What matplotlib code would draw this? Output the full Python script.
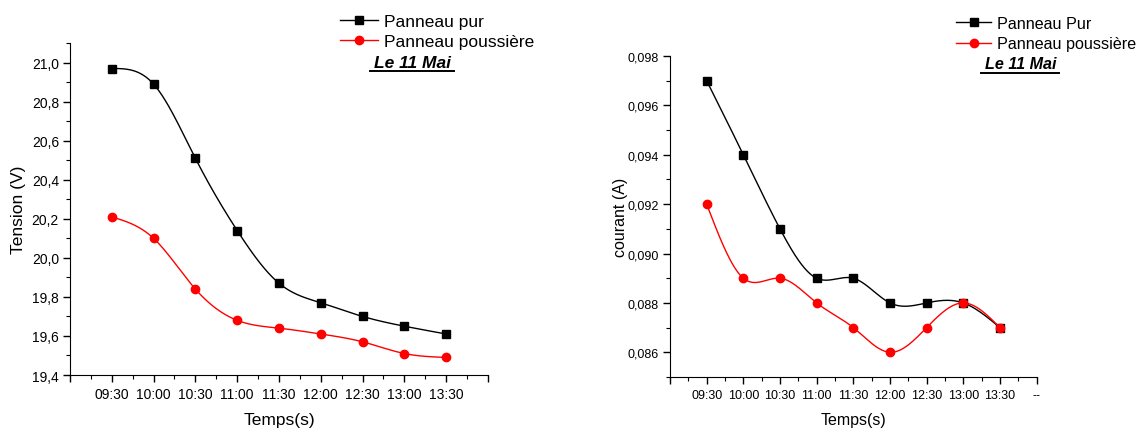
import numpy as np
import matplotlib
matplotlib.use("Agg")
import matplotlib.pyplot as plt
from matplotlib.ticker import FuncFormatter, MultipleLocator, FixedLocator
from matplotlib.lines import Line2D

plt.rcParams['font.family'] = ['Liberation Sans', 'DejaVu Sans']

heures = ["09:30", "10:00", "10:30", "11:00", "11:30", "12:00", "12:30", "13:00", "13:30"]

tension_pur = [20.97, 20.89, 20.51, 20.14, 19.87, 19.77, 19.70, 19.65, 19.61]
tension_poussiere = [20.21, 20.10, 19.84, 19.68, 19.64, 19.61, 19.57, 19.51, 19.49]

courant_pur = [0.097, 0.094, 0.091, 0.089, 0.089, 0.088, 0.088, 0.088, 0.087]
courant_poussiere = [0.092, 0.089, 0.089, 0.088, 0.087, 0.086, 0.087, 0.088, 0.087]


def spline(x, y, n=400):
    # spline cubique naturelle (comme la connexion "Spline" d'Origin)
    x = np.asarray(x, float)
    y = np.asarray(y, float)
    k = len(x)
    h = np.diff(x)
    A = np.zeros((k, k))
    b = np.zeros(k)
    A[0, 0] = A[-1, -1] = 1
    for i in range(1, k - 1):
        A[i, i - 1] = h[i - 1]
        A[i, i] = 2 * (h[i - 1] + h[i])
        A[i, i + 1] = h[i]
        b[i] = 6 * ((y[i + 1] - y[i]) / h[i] - (y[i] - y[i - 1]) / h[i - 1])
    M = np.linalg.solve(A, b)
    xs = np.linspace(x[0], x[-1], n)
    idx = np.clip(np.searchsorted(x, xs) - 1, 0, k - 2)
    x0, x1 = x[idx], x[idx + 1]
    hh = x1 - x0
    t0, t1 = x1 - xs, xs - x0
    ys = (M[idx] * t0**3 + M[idx + 1] * t1**3) / (6 * hh) \
        + (y[idx] / hh - M[idx] * hh / 6) * t0 \
        + (y[idx + 1] / hh - M[idx + 1] * hh / 6) * t1
    return xs, ys


def underline(fig, txt):
    fig.canvas.draw()
    bb = txt.get_window_extent()
    W, H = fig.bbox.width, fig.bbox.height
    yy = (bb.y0 - 1.5) / H
    fig.add_artist(Line2D([bb.x0 / W - 0.004, bb.x1 / W + 0.002], [yy, yy],
                          color='black', lw=1.4))


fig = plt.figure(figsize=(11.42, 4.31), dpi=100)

pos = np.arange(1, len(heures) + 1)


def draw(ax, pur, pous, lab_pur, ylabel, ylim, major, minor, fmt, fs_tick, fs_lab,
         last_label, leg_anchor, leg_fs, leg_sp, date_xy, ylabpad, xlabpad):
    xs, ys = spline(pos, pur)
    ax.plot(xs, ys, color='black', lw=1.0)
    ax.plot(pos, pur, 's', color='black', ms=5.5)
    xs, ys = spline(pos, pous)
    ax.plot(xs, ys, color='red', lw=1.0)
    ax.plot(pos, pous, 'o', color='red', ms=6)

    ax.set_xlim(0, 10)
    ax.set_ylim(*ylim)
    ax.xaxis.set_major_locator(FixedLocator(range(0, 11)))
    ax.set_xticklabels([''] + heures + [last_label])
    ax.xaxis.set_minor_locator(MultipleLocator(0.5))
    ax.yaxis.set_major_locator(MultipleLocator(major))
    ax.yaxis.set_minor_locator(MultipleLocator(minor))
    ax.yaxis.set_major_formatter(FuncFormatter(lambda v, p: fmt.format(v).replace('.', ',')))
    for s in ['top', 'right']:
        ax.spines[s].set_visible(False)
    ax.tick_params(which='major', direction='out', length=5, width=1, labelsize=fs_tick, pad=3)
    ax.tick_params(which='minor', direction='out', length=3, width=0.8)
    ax.tick_params(axis='x', pad=3.5)
    ax.set_xlabel('Temps(s)', fontsize=fs_lab, labelpad=xlabpad)
    ax.set_ylabel(ylabel, fontsize=fs_lab, labelpad=ylabpad)

    handles = [Line2D([], [], color='black', lw=1.0, marker='s', ms=5.5),
               Line2D([], [], color='red', lw=1.0, marker='o', ms=6)]
    fig.legend(handles, [lab_pur, 'Panneau poussière'], loc='upper left',
               bbox_to_anchor=leg_anchor, bbox_transform=fig.transFigure,
               frameon=False, fontsize=leg_fs, borderpad=0, borderaxespad=0,
               handlelength=2.2, handletextpad=0.35, labelspacing=leg_sp)
    t = fig.text(date_xy[0], date_xy[1], 'Le 11 Mai', fontsize=leg_fs,
                 fontweight='bold', fontstyle='italic', ha='center', va='center')
    return t


ax1 = fig.add_axes([0.0613, 0.1276, 0.366, 0.770])
t1 = draw(ax1, tension_pur, tension_poussiere, 'Panneau pur', 'Tension (V)',
          (19.4, 21.1), 0.2, 0.1, '{:.1f}', 10, 12.5, '',
          (340 / 1142, 1 - 15 / 431), 12.5, 0.25, (413 / 1142, 1 - 63 / 431), 4, 8)

ax2 = fig.add_axes([0.5867, 0.123, 0.321, 0.7447])
t2 = draw(ax2, courant_pur, courant_poussiere, 'Panneau Pur', 'courant (A)',
          (0.085, 0.098), 0.002, 0.001, '{:.3f}', 9, 11.5, '--',
          (956 / 1142, 1 - 17 / 431), 11.6, 0.33, (1021 / 1142, 1 - 65 / 431), 0, 8)

underline(fig, t1)
underline(fig, t2)

fig.savefig('out.png', dpi=100)
